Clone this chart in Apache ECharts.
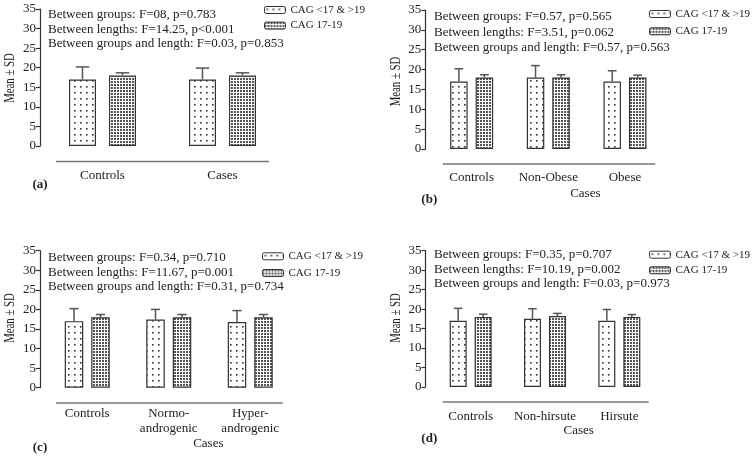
<!DOCTYPE html>
<html><head><meta charset="utf-8">
<script src="https://cdn.jsdelivr.net/npm/echarts@6/dist/echarts.min.js"></script>
<style>html,body{margin:0;padding:0;background:#fff}#c{width:753px;height:456px}</style>
</head><body><div id="c"></div>
<script>
// ---- data ----
const seriesNames = ['CAG <17 & >19', 'CAG 17-19'];
const yTicks = [0, 5, 10, 15, 20, 25, 30, 35];

const catsA = ['Controls', 'Cases'];
const shortA = [17.0, 17.0];
const shortSdA = [3.2, 2.9];
const midA = [18.0, 18.0];
const midSdA = [0.7, 0.7];
const statsA = ['Between groups: F=08, p=0.783', 'Between lengths: F=14.25, p<0.001', 'Between groups and length: F=0.03, p=0.853'];

const catsB = ['Controls', 'Non-Obese', 'Obese'];
const shortB = [17.0, 18.0, 17.0];
const shortSdB = [3.2, 3.0, 2.7];
const midB = [18.0, 18.0, 18.0];
const midSdB = [0.7, 0.7, 0.6];
const statsB = ['Between groups: F=0.57, p=0.565', 'Between lengths: F=3.51, p=0.062', 'Between groups and length: F=0.57, p=0.563'];

const catsC = ['Controls', 'Normo-\nandrogenic', 'Hyper-\nandrogenic'];
const shortC = [17.0, 17.4, 16.8];
const shortSdC = [3.2, 2.6, 2.9];
const midC = [18.0, 18.0, 18.0];
const midSdC = [0.7, 0.7, 0.7];
const statsC = ['Between groups: F=0.34, p=0.710', 'Between lengths: F=11.67, p=0.001', 'Between groups and length: F=0.31, p=0.734'];

const catsD = ['Controls', 'Non-hirsute', 'Hirsute'];
const shortD = [17.0, 17.5, 17.0];
const shortSdD = [3.2, 2.6, 2.9];
const midD = [18.0, 18.2, 18.0];
const midSdD = [0.7, 0.7, 0.6];
const statsD = ['Between groups: F=0.35, p=0.707', 'Between lengths: F=10.19, p=0.002', 'Between groups and length: F=0.03, p=0.973'];

const yTitle = 'Mean \u00b1 SD';
const groupTitle = 'Cases';

// ---- layout / style ----
const FONT = 'Liberation Serif';
const TXT = '#222';
const panels = [
  {tag:'(a)', cats:catsA, s:shortA, ss:shortSdA, m:midA, ms:midSdA, stats:statsA,
   grid:{left:42.5, top:9, width:240, height:137}, yOff:2.5, bw:27, gap:13, lblMargin:22,
   statX:48, statY:[15.7,31,45], leg:{left:264, top:4.5, gap:4.6},
   base:{x1:56,x2:269,y:161.5}, yName:{x:10,y:78}, group:null, tagPos:{x:40,y:185}},
  {tag:'(b)', cats:catsB, s:shortB, ss:shortSdB, m:midB, ms:midSdB, stats:statsB,
   grid:{left:433.3, top:10, width:230, height:139}, yOff:8, bw:17.5, gap:8, lblMargin:21,
   statX:434, statY:[18.3,33.7,49], leg:{left:649, top:8.5, gap:6.3},
   base:{x1:442.7,x2:655.3,y:164}, yName:{x:396,y:81.5}, group:{x:585.3,y:193.3}, tagPos:{x:429.3,y:199.3}},
  {tag:'(c)', cats:catsC, s:shortC, ss:shortSdC, m:midC, ms:midSdC, stats:statsC,
   grid:{left:46.5, top:250.7, width:244.5, height:137}, yOff:6.5, bw:18.5, gap:8, lblMargin:18,
   statX:48, statY:[258.7,273.7,288], leg:{left:262, top:250.8, gap:5.7},
   base:{x1:56,x2:282.7,y:403}, yName:{x:10,y:318}, group:{x:208.3,y:444}, tagPos:{x:40,y:447.3}},
  {tag:'(d)', cats:catsD, s:shortD, ss:shortSdD, m:midD, ms:midSdD, stats:statsD,
   grid:{left:433.5, top:250.7, width:223, height:136.3}, yOff:8, bw:17, gap:8, lblMargin:22,
   statX:434, statY:[256.3,270.7,285.3], leg:{left:649, top:249.2, gap:4.6},
   base:{x1:442.7,x2:648.7,y:402}, yName:{x:396,y:318}, group:{x:578.7,y:430.7}, tagPos:{x:429.3,y:438.7}}
];

function makePattern(size, dot, off, color) {
  const c = document.createElement('canvas');
  c.width = size; c.height = size;
  const ctx = c.getContext('2d');
  ctx.fillStyle = '#fff'; ctx.fillRect(0, 0, size, size);
  ctx.fillStyle = color; ctx.fillRect(off, off, dot, dot);
  return c;
}
const sparse = {image: makePattern(6, 1.6, 2, '#333'), repeat: 'repeat'};
const dense = {image: makePattern(3, 2, 0, '#555'), repeat: 'repeat'};

const grids = [], xAxes = [], yAxes = [], series = [], legends = [], graphics = [];

panels.forEach((p, gi) => {
  grids.push(Object.assign({containLabel:false}, p.grid));
  xAxes.push({type:'category', gridIndex:gi, data:p.cats,
    axisLine:{show:false}, axisTick:{show:false},
    axisLabel:{margin:p.lblMargin, fontFamily:FONT, fontSize:13, color:TXT, lineHeight:15, interval:0}});
  yAxes.push({type:'value', gridIndex:gi, min:yTicks[0], max:yTicks[yTicks.length-1], interval:yTicks[1]-yTicks[0],
    offset:p.yOff,
    axisLine:{show:true, lineStyle:{color:'#333', width:1.2}},
    axisTick:{show:true, inside:false, length:4, lineStyle:{color:'#333', width:1.2}},
    splitLine:{show:false},
    axisLabel:{margin:4, fontFamily:FONT, fontSize:13, color:TXT}});
  const shift = (p.bw + p.gap) / 2;
  const gapPct = (p.gap / p.bw * 100) + '%';
  const fills = [sparse, dense];
  const means = [p.s, p.m], sds = [p.ss, p.ms];
  [0, 1].forEach(k => {
    series.push({type:'bar', name:seriesNames[k], xAxisIndex:gi, yAxisIndex:gi,
      data:means[k], barWidth:p.bw, barGap:gapPct, animation:false,
      itemStyle:{color:fills[k], borderColor:'#333', borderWidth:1.2}, z:2});
    const sign = k === 0 ? -1 : 1;
    const cap = p.bw * 0.5;
    series.push({type:'custom', name:'sd'+gi+'_'+k, xAxisIndex:gi, yAxisIndex:gi, animation:false, z:3,
      data:p.cats.map((c, i) => [i, means[k][i], sds[k][i]]),
      encode:{x:0, y:1},
      renderItem:function(params, api) {
        const idx = api.value(0), mv = api.value(1), sv = api.value(2);
        const b = api.coord([idx, mv]), t = api.coord([idx, mv + sv]);
        const x = b[0] + sign * shift;
        const st = {stroke:'#555', lineWidth:1.5};
        return {type:'group', children:[
          {type:'line', shape:{x1:x, y1:b[1], x2:x, y2:t[1]}, style:st},
          {type:'line', shape:{x1:x - cap/2, y1:t[1], x2:x + cap/2, y2:t[1]}, style:st}
        ]};
      }});
  });
  legends.push({data:seriesNames, orient:'vertical', left:p.leg.left, top:p.leg.top, itemGap:p.leg.gap,
    padding:0, itemWidth:21, itemHeight:7, selectedMode:false,
    itemStyle:{borderColor:'#333', borderWidth:1},
    textStyle:{fontFamily:FONT, fontSize:11, color:TXT}});
  p.stats.forEach((s, i) => graphics.push({type:'text', left:p.statX, top:p.statY[i]-8,
    style:{text:s, font:'13px "' + FONT + '"', fill:TXT}}));
  graphics.push({type:'line', shape:{x1:p.base.x1, y1:p.base.y, x2:p.base.x2, y2:p.base.y},
    style:{stroke:'#777', lineWidth:1.5}});
  graphics.push({type:'text', x:p.yName.x, y:p.yName.y, rotation:Math.PI/2, scaleX:0.72,
    style:{text:yTitle, font:'15px "' + FONT + '"', fill:TXT, textAlign:'center', textVerticalAlign:'middle'}});
  if (p.group) graphics.push({type:'text', x:p.group.x, y:p.group.y,
    style:{text:groupTitle, font:'13px "' + FONT + '"', fill:TXT, textAlign:'center', textVerticalAlign:'middle'}});
  graphics.push({type:'text', x:p.tagPos.x, y:p.tagPos.y,
    style:{text:p.tag, font:'bold 13px "' + FONT + '"', fill:TXT, textAlign:'center', textVerticalAlign:'middle'}});
});

const chart = echarts.init(document.getElementById('c'), null, {renderer:'canvas'});
chart.setOption({animation:false, backgroundColor:'#fff', grid:grids, xAxis:xAxes, yAxis:yAxes,
  legend:legends, series:series, graphic:graphics});
</script></body></html>
